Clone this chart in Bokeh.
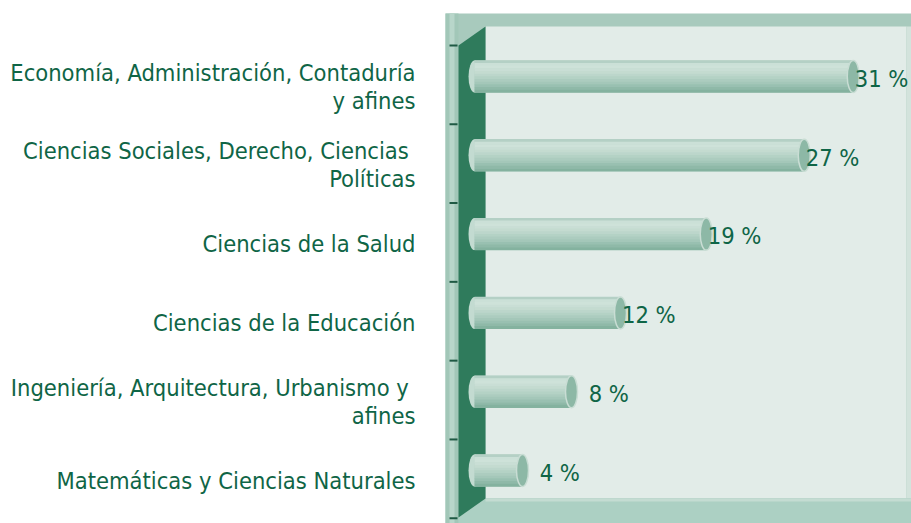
from bokeh.plotting import figure
from bokeh.models import Range1d
from bokeh.embed import file_html
from bokeh.resources import INLINE
from bokeh.core.properties import value

# ---------------- data ----------------
categories = [
    "Economía, Administración, Contaduría\ny afines",
    "Ciencias Sociales, Derecho, Ciencias \nPolíticas",
    "Ciencias de la Salud",
    "Ciencias de la Educación",
    "Ingeniería, Arquitectura, Urbanismo y \nafines",
    "Matemáticas y Ciencias Naturales",
]
percentages = [31, 27, 19, 12, 8, 4]
value_labels = ["31 %", "27 %", "19 %", "12 %", "8 %", "4 %"]

# ---------------- layout / style ----------------
W, H = 911, 523
OFF = 0
X0_REF, PX_PER_UNIT = 473.0, 12.25   # x pixel of 0 %, pixels per %
Y0_REF, PX_PER_ROW = 76.0, 78.8      # y pixel of first row, pixels per row

def dx(ref_px):
    return (ref_px - X0_REF) / PX_PER_UNIT

def dy(ref_px):
    return (ref_px - Y0_REF) / PX_PER_ROW

FONT = "'DejaVu Sans Condensed', Roboto, sans-serif"
FONT_SIZE = "23.5px"
TEXT_COLOR = "#0f6546"
WALL_DARK = "#2f7b5c"
TOP_STRIP = "#a8cabd"
LEFT_STRIP = "#a2c7b8"
BACK_WALL = "#e2ece8"
FLOOR = "#acd0c3"
TICK = "#1f5a44"

p = figure(width=W, height=H, output_backend="svg", toolbar_location=None,
           x_range=Range1d(dx(OFF), dx(OFF + W)),
           y_range=Range1d(dy(OFF + H), dy(OFF)),
           min_border=0, outline_line_color=None,
           background_fill_color="white", border_fill_color="white")
p.axis.visible = False
p.grid.visible = False

# ---------------- decorative 3D frame ----------------
p.quad(left=dx(445), right=dx(915), top=dy(13), bottom=dy(530),
       fill_color=TOP_STRIP, line_color=None)
p.quad(left=dx(445), right=dx(458), top=dy(13), bottom=dy(530),
       fill_color=LEFT_STRIP, line_color=None)
p.quad(left=dx(449), right=dx(454), top=dy(13), bottom=dy(530),
       fill_color="#b8d6ca", line_color=None)
p.quad(left=dx(485), right=dx(906), top=dy(26), bottom=dy(498),
       fill_color=BACK_WALL, line_color=None)
p.quad(left=dx(906), right=dx(915), top=dy(26), bottom=dy(498),
       fill_color="#d3e3dc", line_color=None)
p.patch(x=[dx(458), dx(485), dx(915), dx(915), dx(458)],
        y=[dy(517), dy(498), dy(498), dy(530), dy(530)],
        fill_color=FLOOR, line_color=None)
p.quad(left=dx(485), right=dx(915), top=dy(498), bottom=dy(501),
       fill_color="#c4dcd2", line_color=None)
p.patch(x=[dx(458), dx(485), dx(485), dx(458)],
        y=[dy(45), dy(26), dy(498), dy(517)],
        fill_color=WALL_DARK, line_color=None)
tick_rows = [i - 0.394 for i in range(len(categories) + 1)]
p.segment(x0=[dx(449)] * len(tick_rows), x1=[dx(457)] * len(tick_rows),
          y0=tick_rows, y1=tick_rows, line_color=TICK, line_width=2)

# ---------------- bars (cylinders) ----------------
rows = list(range(len(categories)))
BAR_H = 32 / PX_PER_ROW
CAP_W = 12 / PX_PER_UNIT
left_edge = dx(474)

stops = [(0.0, (0xa9, 0xc9, 0xbc)), (0.15, (0xd2, 0xe4, 0xdc)),
         (0.4, (0xc2, 0xda, 0xcf)), (0.7, (0xa5, 0xc8, 0xba)),
         (1.0, (0x7f, 0xae, 0x9b))]

def shade(f):
    for (f0, c0), (f1, c1) in zip(stops[:-1], stops[1:]):
        if f0 <= f <= f1:
            t = (f - f0) / (f1 - f0)
            return "#%02x%02x%02x" % tuple(int(round(a + (b - a) * t)) for a, b in zip(c0, c1))
    return "#%02x%02x%02x" % stops[-1][1]

p.ellipse(x=[left_edge] * len(rows), y=rows, width=CAP_W, height=BAR_H,
          fill_color="#c3dbd1", line_color=None)
p.hbar(y=rows, left=left_edge, right=percentages, height=BAR_H,
       fill_color=shade(0.5), line_color=None)
N_BANDS = 12
for k in range(N_BANDS):
    t, b = k / N_BANDS, (k + 1) / N_BANDS
    ys = [r - BAR_H / 2 + (t + b) / 2 * BAR_H for r in rows]
    p.hbar(y=ys, left=left_edge, right=percentages, height=(b - t) * BAR_H * 1.15,
           fill_color=shade((t + b) / 2), line_color=None)
p.ellipse(x=percentages, y=rows, width=CAP_W, height=BAR_H,
          fill_color="#8db8a6", line_color="#c9ddd4", line_width=1.5)

# ---------------- value labels ----------------
label_x = [v + (1.4 if v < 10 else 0.12) for v in percentages]
p.text(x=label_x, y=[r + 0.03 for r in rows], text=value_labels,
       text_font=value(FONT), text_font_size=FONT_SIZE, text_color=TEXT_COLOR,
       text_align="left", text_baseline="middle")

# ---------------- category labels ----------------
LINE = 28 / PX_PER_ROW
lx, ly, lt = [], [], []
for r, cat in zip(rows, categories):
    lines = cat.split("\n")
    n = len(lines)
    center = r + 10 / PX_PER_ROW
    for k, line in enumerate(lines):
        lx.append(dx(415))
        ly.append(center + (k - (n - 1) / 2) * LINE)
        lt.append(line)
p.text(x=lx, y=ly, text=lt, text_font=value(FONT), text_font_size=FONT_SIZE,
       text_color=TEXT_COLOR, text_align="right", text_baseline="middle")

open("out.html", "w").write(file_html(p, INLINE))
